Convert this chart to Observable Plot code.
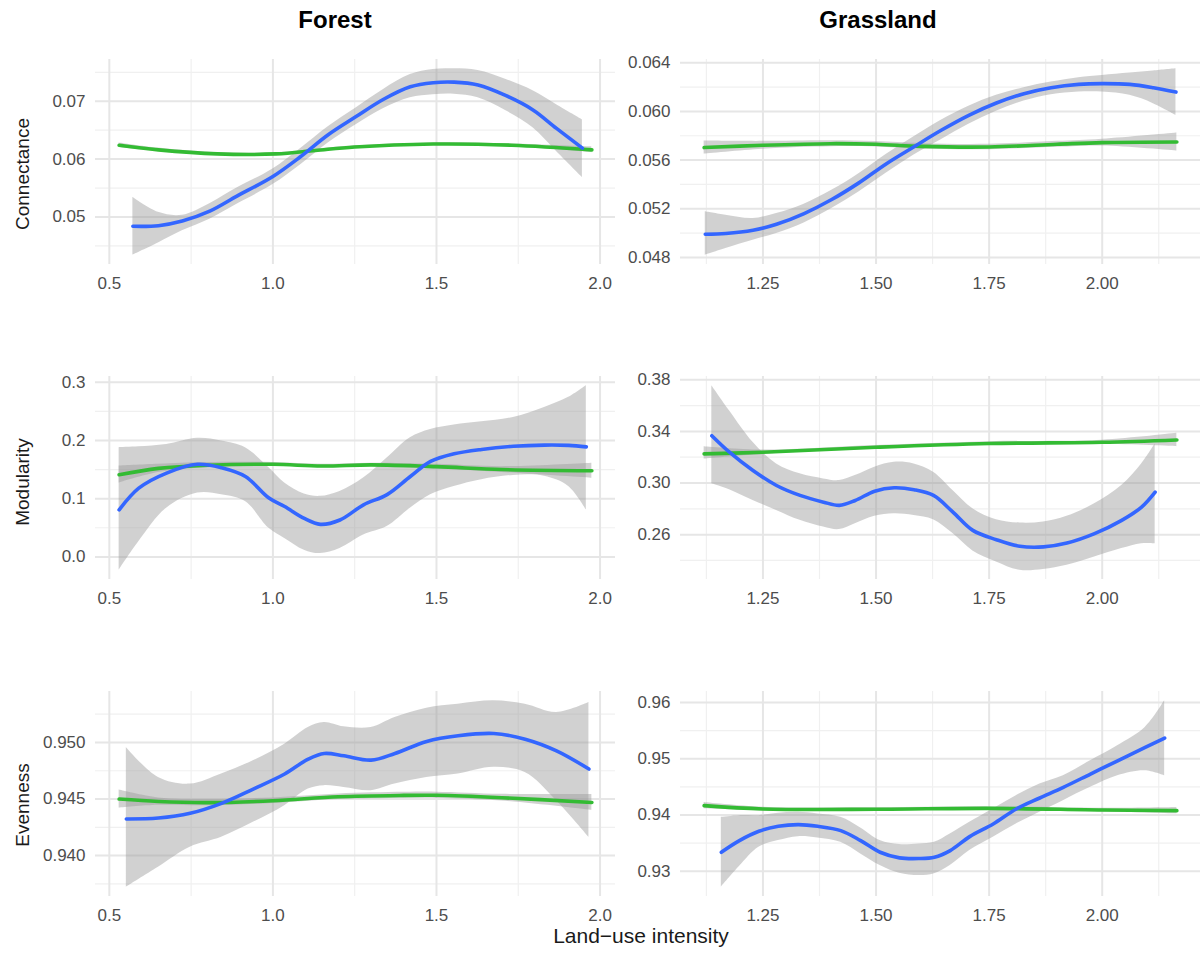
<!DOCTYPE html>
<html>
<head>
<meta charset="utf-8">
<script src="https://cdn.jsdelivr.net/npm/d3@7"></script>
<script src="https://cdn.jsdelivr.net/npm/@observablehq/plot@0.6"></script>
<style>
  html, body { margin: 0; padding: 0; background: #fff; }
  #chart { position: relative; width: 1203px; height: 954px; font-family: "Liberation Sans", Arial, sans-serif; overflow: hidden; }
  #chart > div.panel { position: absolute; }
  .title { position: absolute; font-weight: bold; font-size: 24px; color: #000; line-height: 24px; transform: translateX(-50%); white-space: nowrap; }
  .ytitle { position: absolute; font-size: 19px; color: #1a1a1a; line-height: 19px; white-space: nowrap; transform: translate(-50%, -50%) rotate(-90deg); }
  .xtitle { position: absolute; font-size: 21px; color: #1a1a1a; line-height: 21px; white-space: nowrap; transform: translateX(-50%); }
</style>
</head>
<body>
<div id="chart"></div>
<script>
// ---------- tick labels / gridlines ----------
const forestXTicks = [0.5, 1.0, 1.5, 2.0];
const forestXMinor = [0.75, 1.25, 1.75];
const grassXTicks = [1.25, 1.5, 1.75, 2.0];
const grassXMinor = [1.125, 1.375, 1.625, 1.875, 2.125];

const forestConnTicks = [0.05, 0.06, 0.07];
const forestConnMinor = [0.045, 0.055, 0.065, 0.075];
const grassConnTicks = [0.048, 0.052, 0.056, 0.060, 0.064];
const grassConnMinor = [0.050, 0.054, 0.058, 0.062];
const forestModTicks = [0.0, 0.1, 0.2, 0.3];
const forestModMinor = [-0.05, 0.05, 0.15, 0.25];
const grassModTicks = [0.26, 0.30, 0.34, 0.38];
const grassModMinor = [0.24, 0.28, 0.32, 0.36];
const forestEvenTicks = [0.940, 0.945, 0.950];
const forestEvenMinor = [0.9375, 0.9425, 0.9475, 0.9525];
const grassEvenTicks = [0.93, 0.94, 0.95, 0.96];
const grassEvenMinor = [0.925, 0.935, 0.945, 0.955];

const columns = ["Forest", "Grassland"];
const rowLabels = ["Connectance", "Modularity", "Evenness"];
const xTitle = "Land\u2212use intensity";

// ---------- series: [landUseIntensity, fit, lower, upper] ----------
const forestConnBlue = [
  [0.572, 0.0484, 0.0434, 0.0534], [0.65, 0.0485, 0.0455, 0.0508], [0.723, 0.0493, 0.0476, 0.0503],
  [0.807, 0.0510, 0.0496, 0.0523], [0.89, 0.0536, 0.0522, 0.0550], [1.0, 0.0570, 0.0556, 0.0583],
  [1.084, 0.0604, 0.0590, 0.0618], [1.169, 0.0642, 0.0628, 0.0656], [1.253, 0.0673, 0.0659, 0.0688],
  [1.337, 0.0703, 0.0687, 0.0720], [1.42, 0.0725, 0.0706, 0.0746], [1.49, 0.0732, 0.0711, 0.0755],
  [1.554, 0.0733, 0.0712, 0.0756], [1.627, 0.0728, 0.0706, 0.0753], [1.711, 0.0710, 0.0684, 0.0738],
  [1.795, 0.0685, 0.0654, 0.0718], [1.867, 0.0653, 0.0613, 0.0694], [1.946, 0.0619, 0.0568, 0.0668]
];
const forestConnGreen = [
  [0.53, 0.0624, 0.0620, 0.0628], [0.65, 0.0616, 0.0613, 0.0619], [0.83, 0.0609, 0.0607, 0.0611],
  [1.01, 0.0609, 0.0607, 0.0611], [1.13, 0.0615, 0.0613, 0.0617], [1.25, 0.0621, 0.0619, 0.0623],
  [1.49, 0.0626, 0.0624, 0.0628], [1.73, 0.0624, 0.0622, 0.0626], [1.975, 0.0616, 0.0611, 0.0621]
];

const grassConnBlue = [
  [1.1225, 0.04991, 0.04819, 0.05175], [1.168, 0.04997, 0.04874, 0.05147], [1.228, 0.05024, 0.04942, 0.05120],
  [1.28, 0.05073, 0.04997, 0.05161], [1.341, 0.05161, 0.05084, 0.05238], [1.402, 0.05276, 0.05202, 0.05352],
  [1.462, 0.05413, 0.05339, 0.05489], [1.523, 0.05571, 0.05495, 0.05648], [1.583, 0.05708, 0.05640, 0.05790],
  [1.644, 0.05845, 0.05768, 0.05927], [1.705, 0.05968, 0.05894, 0.06042], [1.766, 0.06069, 0.06001, 0.06132],
  [1.827, 0.06146, 0.06085, 0.06195], [1.887, 0.06195, 0.06137, 0.06241], [1.948, 0.06222, 0.06159, 0.06277],
  [2.0, 0.06228, 0.06159, 0.06296], [2.061, 0.06222, 0.06132, 0.06315], [2.113, 0.06195, 0.06064, 0.06332],
  [2.163, 0.06159, 0.05968, 0.06350]
];
const grassConnGreen = [
  [1.12, 0.05703, 0.05650, 0.05756], [1.25, 0.05722, 0.05690, 0.05754], [1.4, 0.05735, 0.05710, 0.05760],
  [1.5, 0.05730, 0.05708, 0.05752], [1.6, 0.05713, 0.05691, 0.05735], [1.75, 0.05708, 0.05686, 0.05730],
  [1.9, 0.05730, 0.05706, 0.05754], [2.0, 0.05744, 0.05716, 0.05772], [2.165, 0.05749, 0.05675, 0.05823]
];

const forestModBlue = [
  [0.53, 0.0807, -0.023, 0.1875], [0.59, 0.118, 0.026, 0.189], [0.675, 0.144, 0.0836, 0.193],
  [0.77, 0.159, 0.1096, 0.2036], [0.843, 0.153, 0.1067, 0.199], [0.916, 0.138, 0.0952, 0.1875],
  [0.988, 0.101, 0.049, 0.153], [1.036, 0.0865, 0.0317, 0.127], [1.096, 0.066, 0.0115, 0.108],
  [1.145, 0.0559, 0.0057, 0.104], [1.205, 0.0634, 0.0144, 0.1125], [1.277, 0.0894, 0.0375, 0.1355],
  [1.349, 0.107, 0.052, 0.170], [1.42, 0.138, 0.0836, 0.2048], [1.482, 0.164, 0.1067, 0.219],
  [1.554, 0.177, 0.121, 0.2267], [1.638, 0.1846, 0.1327, 0.232], [1.735, 0.190, 0.140, 0.2394],
  [1.83, 0.192, 0.1384, 0.2567], [1.904, 0.1915, 0.121, 0.274], [1.958, 0.189, 0.0807, 0.294]
];
const forestModGreen = [
  [0.53, 0.141, 0.127, 0.156], [0.65, 0.152, 0.145, 0.159], [0.8, 0.1575, 0.153, 0.162],
  [1.0, 0.159, 0.156, 0.162], [1.15, 0.156, 0.153, 0.159], [1.3, 0.158, 0.155, 0.161],
  [1.5, 0.155, 0.151, 0.159], [1.7, 0.150, 0.145, 0.155], [1.975, 0.148, 0.135, 0.161]
];

const grassModBlue = [
  [1.137, 0.3367, 0.2994, 0.3754], [1.176, 0.3239, 0.2948, 0.356], [1.228, 0.3097, 0.2865, 0.3316],
  [1.28, 0.2981, 0.2788, 0.3148], [1.332, 0.2904, 0.2711, 0.3071], [1.384, 0.2852, 0.2659, 0.3032],
  [1.419, 0.2827, 0.2639, 0.3019], [1.454, 0.2865, 0.2685, 0.3058], [1.497, 0.2937, 0.2742, 0.3123],
  [1.54, 0.2963, 0.2762, 0.3161], [1.584, 0.2948, 0.2749, 0.3148], [1.627, 0.2904, 0.2716, 0.3084],
  [1.67, 0.2775, 0.2608, 0.2942], [1.714, 0.2633, 0.2474, 0.2801], [1.766, 0.2561, 0.2389, 0.2716],
  [1.818, 0.2510, 0.2324, 0.2690], [1.87, 0.2505, 0.2330, 0.2698], [1.922, 0.2535, 0.2363, 0.2742],
  [1.983, 0.2608, 0.2427, 0.2839], [2.043, 0.2711, 0.2492, 0.2981], [2.087, 0.2814, 0.2530, 0.3148],
  [2.117, 0.2930, 0.2530, 0.3303]
];
const grassModGreen = [
  [1.12, 0.3226, 0.3187, 0.3282], [1.25, 0.3239, 0.3222, 0.3256], [1.5, 0.3277, 0.3263, 0.3291],
  [1.75, 0.3306, 0.3292, 0.3320], [2.0, 0.3316, 0.3300, 0.3332], [2.165, 0.3334, 0.3282, 0.3385]
];

const forestEvenBlue = [
  [0.552, 0.94324, 0.93721, 0.94956], [0.65, 0.94332, 0.93897, 0.94691], [0.747, 0.94374, 0.94074, 0.94632],
  [0.843, 0.94462, 0.94162, 0.94721], [0.94, 0.94588, 0.94294, 0.94838], [1.036, 0.94721, 0.94441, 0.94985],
  [1.108, 0.94853, 0.94588, 0.95132], [1.157, 0.94903, 0.94618, 0.95176], [1.217, 0.94882, 0.94603, 0.95138],
  [1.30, 0.94844, 0.94574, 0.95132], [1.373, 0.94903, 0.94632, 0.95220], [1.47, 0.95009, 0.94691, 0.95303],
  [1.566, 0.95059, 0.94721, 0.95338], [1.675, 0.95079, 0.94780, 0.95368], [1.771, 0.95029, 0.94735, 0.95338],
  [1.867, 0.94926, 0.94485, 0.95265], [1.966, 0.94765, 0.94162, 0.95353]
];
const forestEvenGreen = [
  [0.53, 0.94500, 0.94420, 0.94580], [0.65, 0.94478, 0.94445, 0.94510], [0.8, 0.94468, 0.94440, 0.94496],
  [1.0, 0.94485, 0.94460, 0.94510], [1.2, 0.94520, 0.94495, 0.94545], [1.4, 0.94532, 0.94505, 0.94559],
  [1.5, 0.94533, 0.94505, 0.94561], [1.7, 0.94512, 0.94482, 0.94542], [1.975, 0.94470, 0.94400, 0.94540]
];

const grassEvenBlue = [
  [1.158, 0.93337, 0.92716, 0.93959], [1.198, 0.93544, 0.93083, 0.93988], [1.241, 0.93710, 0.93426, 0.93988],
  [1.284, 0.93799, 0.93544, 0.94030], [1.328, 0.93828, 0.93615, 0.94047], [1.371, 0.93799, 0.93592, 0.94018],
  [1.422, 0.93722, 0.93515, 0.93959], [1.466, 0.93544, 0.93308, 0.93769], [1.509, 0.93337, 0.93101, 0.93544],
  [1.552, 0.93237, 0.92964, 0.93473], [1.595, 0.93225, 0.92923, 0.93485], [1.629, 0.93249, 0.92953, 0.93515],
  [1.664, 0.93367, 0.93101, 0.93663], [1.707, 0.93615, 0.93367, 0.93870], [1.759, 0.93840, 0.93604, 0.94107],
  [1.81, 0.94107, 0.93840, 0.94343], [1.862, 0.94302, 0.94047, 0.94550], [1.914, 0.94491, 0.94254, 0.94698],
  [1.974, 0.94728, 0.94491, 0.94964], [2.034, 0.94964, 0.94698, 0.95231], [2.095, 0.95201, 0.94787, 0.95556],
  [2.138, 0.95367, 0.94698, 0.96030]
];
const grassEvenGreen = [
  [1.12, 0.94166, 0.94110, 0.94222], [1.25, 0.94107, 0.94075, 0.94139], [1.5, 0.94101, 0.94075, 0.94127],
  [1.75, 0.94118, 0.94092, 0.94144], [2.0, 0.94089, 0.94059, 0.94119], [2.165, 0.94077, 0.94020, 0.94134]
];

// ---------- layout ----------
const BLUE = "#3366ff", GREEN = "#33bb33";
const colFrame = [{left: 95, right: 615}, {left: 680, right: 1200}];
const rowFrame = [{top: 59, bottom: 264}, {top: 376, bottom: 579}, {top: 691, bottom: 896}];
const ML = 80, MR = 3, MT = 3, MB = 40;

const panels = [
  {row: 0, col: 0, xt: forestXTicks, xm: forestXMinor, xf: ".1f", yt: forestConnTicks, ym: forestConnMinor, yf: ".2f", blue: forestConnBlue, green: forestConnGreen},
  {row: 0, col: 1, xt: grassXTicks, xm: grassXMinor, xf: ".2f", yt: grassConnTicks, ym: grassConnMinor, yf: ".3f", blue: grassConnBlue, green: grassConnGreen},
  {row: 1, col: 0, xt: forestXTicks, xm: forestXMinor, xf: ".1f", yt: forestModTicks, ym: forestModMinor, yf: ".1f", blue: forestModBlue, green: forestModGreen},
  {row: 1, col: 1, xt: grassXTicks, xm: grassXMinor, xf: ".2f", yt: grassModTicks, ym: grassModMinor, yf: ".2f", blue: grassModBlue, green: grassModGreen},
  {row: 2, col: 0, xt: forestXTicks, xm: forestXMinor, xf: ".1f", yt: forestEvenTicks, ym: forestEvenMinor, yf: ".3f", blue: forestEvenBlue, green: forestEvenGreen},
  {row: 2, col: 1, xt: grassXTicks, xm: grassXMinor, xf: ".2f", yt: grassEvenTicks, ym: grassEvenMinor, yf: ".2f", blue: grassEvenBlue, green: grassEvenGreen}
];

const chart = document.getElementById("chart");

function expand([a, b]) { const d = (b - a) * 0.05; return [a - d, b + d]; }

for (const p of panels) {
  const all = p.blue.concat(p.green);
  const xDom = expand(d3.extent(all, d => d[0]));
  const yDom = expand([d3.min(all, d => d[2]), d3.max(all, d => d[3])]);
  const cf = colFrame[p.col], rf = rowFrame[p.row];
  const w = cf.right - cf.left, h = rf.bottom - rf.top;
  const inX = v => v >= xDom[0] && v <= xDom[1];
  const inY = v => v >= yDom[0] && v <= yDom[1];
  const plot = Plot.plot({
    width: ML + w + MR,
    height: MT + h + MB,
    marginLeft: ML, marginRight: MR, marginTop: MT, marginBottom: MB,
    style: {fontFamily: "'Liberation Sans', Arial, sans-serif", fontSize: "17px", color: "#4d4d4d", background: "transparent", overflow: "visible"},
    x: {domain: xDom, ticks: p.xt, tickFormat: d3.format(p.xf), tickSize: 0, tickPadding: 12, label: null},
    y: {domain: yDom, ticks: p.yt, tickFormat: d3.format(p.yf), tickSize: 0, tickPadding: 10, label: null},
    marks: [
      Plot.ruleY(p.ym.filter(inY), {stroke: "#f0f0f0", strokeWidth: 1.2}),
      Plot.ruleX(p.xm.filter(inX), {stroke: "#f0f0f0", strokeWidth: 1.2}),
      Plot.ruleY(p.yt.filter(inY), {stroke: "#e6e6e6", strokeWidth: 2}),
      Plot.ruleX(p.xt.filter(inX), {stroke: "#e6e6e6", strokeWidth: 2}),
      Plot.areaY(p.blue, {x: d => d[0], y1: d => d[2], y2: d => d[3], fill: "#999999", fillOpacity: 0.45, curve: "catmull-rom"}),
      Plot.areaY(p.green, {x: d => d[0], y1: d => d[2], y2: d => d[3], fill: "#999999", fillOpacity: 0.45, curve: "catmull-rom"}),
      Plot.line(p.green, {x: d => d[0], y: d => d[1], stroke: GREEN, strokeWidth: 3.6, curve: "catmull-rom"}),
      Plot.line(p.blue, {x: d => d[0], y: d => d[1], stroke: BLUE, strokeWidth: 3.6, curve: "catmull-rom"})
    ]
  });
  const holder = document.createElement("div");
  holder.className = "panel";
  holder.style.left = (cf.left - ML) + "px";
  holder.style.top = (rf.top - MT) + "px";
  holder.appendChild(plot);
  chart.appendChild(holder);
}

// column titles
const titleX = [335, 878];
columns.forEach((t, i) => {
  const el = document.createElement("div");
  el.className = "title";
  el.textContent = t;
  el.style.left = titleX[i] + "px";
  el.style.top = "8px";
  chart.appendChild(el);
});
// row titles
const rowTitleY = [174, 482, 805];
rowLabels.forEach((t, i) => {
  const el = document.createElement("div");
  el.className = "ytitle";
  el.textContent = t;
  el.style.left = "22px";
  el.style.top = rowTitleY[i] + "px";
  chart.appendChild(el);
});
// x title
const xt = document.createElement("div");
xt.className = "xtitle";
xt.textContent = xTitle;
xt.style.left = "641px";
xt.style.top = "925px";
chart.appendChild(xt);
</script>
</body>
</html>
